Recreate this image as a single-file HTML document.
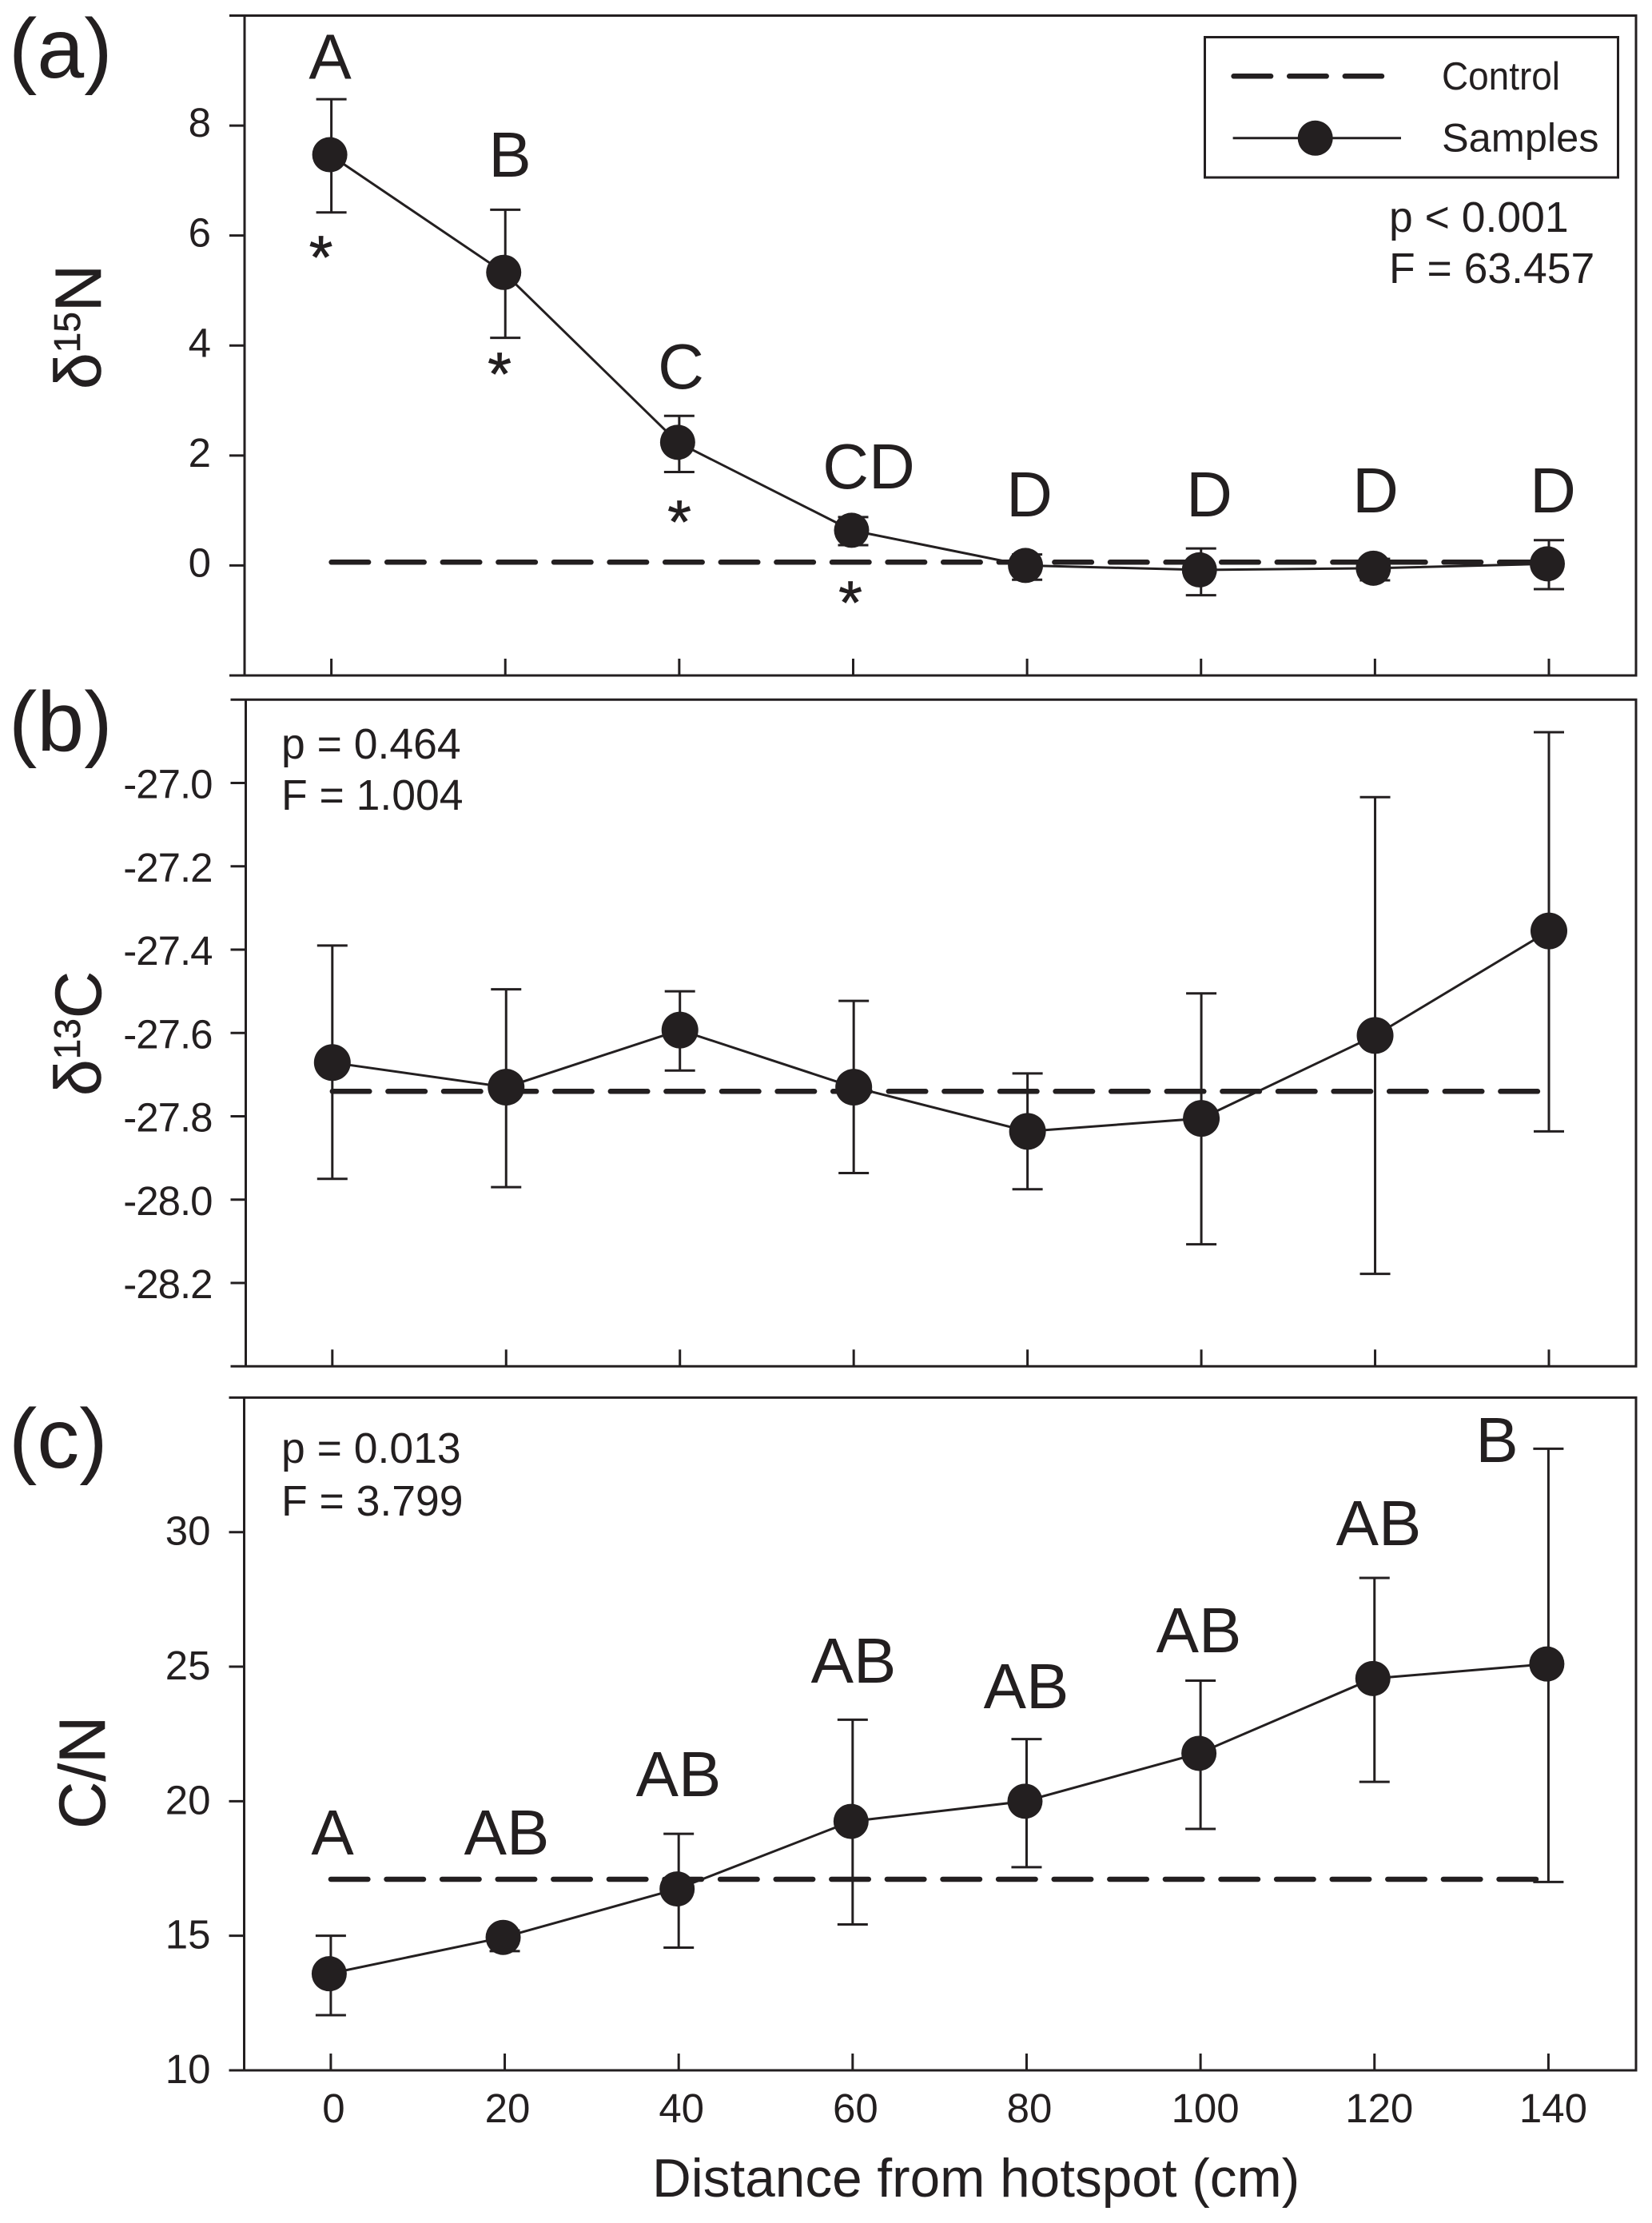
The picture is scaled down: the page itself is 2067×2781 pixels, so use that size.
<!DOCTYPE html>
<html lang="en">
<head>
<meta charset="utf-8">
<title>Isotope values by distance from hotspot</title>
<style>
  html, body { margin: 0; padding: 0; background: #fff; }
  svg { display: block; }
  text { font-family: "Liberation Sans", "DejaVu Sans", sans-serif; fill: #231f20; }
  .sym { font-size: 80px; text-anchor: middle; }
  .star { font-size: 76px; text-anchor: middle; stroke: #231f20; stroke-width: 0.8px; }
  .stat { font-size: 53.5px; }
  .tag { font-size: 106px; }
  .ytitle { font-size: 82px; stroke: #231f20; stroke-width: 0.6px; }
</style>
</head>
<body>
<svg id="chart" xmlns="http://www.w3.org/2000/svg" width="2067" height="2781" viewBox="0 0 2067 2781">
  <rect x="0" y="0" width="2067" height="2781" fill="#ffffff"/>
  <g id="panel-a"></g>
  <g id="panel-b"></g>
  <g id="panel-c"></g>

  <text class="tag" x="11" y="97">(a)</text>
  <text class="tag" x="11" y="939">(b)</text>
  <text class="tag" x="11" y="1836">(c)</text>

  <text class="ytitle" transform="translate(126 487) rotate(-90)">δ<tspan dy="-26" font-size="46">15</tspan><tspan dy="26">N</tspan></text>
  <text class="ytitle" transform="translate(126 1371) rotate(-90)">δ<tspan dy="-26" font-size="46">13</tspan><tspan dy="26">C</tspan></text>
  <text class="ytitle" transform="translate(131 2288) rotate(-90)">C/N</text>
  <text x="816" y="2748" font-size="67.5">Distance from hotspot (cm)</text>

  <g>
    <text class="sym" x="413" y="98.5">A</text>
    <text class="sym" x="638" y="221">B</text>
    <text class="sym" x="852" y="486">C</text>
    <text class="sym" x="1087" y="611">CD</text>
    <text class="sym" x="1288" y="646">D</text>
    <text class="sym" x="1513" y="646">D</text>
    <text class="sym" x="1721" y="641">D</text>
    <text class="sym" x="1943" y="641">D</text>
  </g>
  <g>
    <text class="star" x="401.5" y="348">*</text>
    <text class="star" x="625" y="494">*</text>
    <text class="star" x="850" y="679">*</text>
    <text class="star" x="1064" y="780">*</text>
  </g>
  <g>
    <text class="sym" x="416" y="2320">A</text>
    <text class="sym" x="634" y="2320">AB</text>
    <text class="sym" x="849" y="2247">AB</text>
    <text class="sym" x="1068" y="2105">AB</text>
    <text class="sym" x="1284" y="2137">AB</text>
    <text class="sym" x="1500" y="2067">AB</text>
    <text class="sym" x="1725" y="1933">AB</text>
    <text class="sym" x="1873" y="1829">B</text>
  </g>

  <g>
    <text class="stat" x="1738" y="290">p &lt; 0.001</text>
    <text class="stat" x="1738" y="354">F = 63.457</text>
  </g>
  <g>
    <text class="stat" x="352" y="949">p = 0.464</text>
    <text class="stat" x="352" y="1013">F = 1.004</text>
  </g>
  <g>
    <text class="stat" x="352" y="1830">p = 0.013</text>
    <text class="stat" x="352" y="1896">F = 3.799</text>
  </g>

  <g>
    <rect x="1507.5" y="46.5" width="517" height="175.5" fill="#fff" stroke="#231f20" stroke-width="3"/>
    <line x1="1543.6" y1="95.3" x2="1729" y2="95.3" stroke="#231f20" stroke-width="6.5" stroke-linecap="round" stroke-dasharray="46.5 23.1"/>
    <text x="1804" y="112" font-size="49" textLength="148" lengthAdjust="spacingAndGlyphs">Control</text>
    <line x1="1542.6" y1="172.8" x2="1753" y2="172.8" stroke="#231f20" stroke-width="3"/>
    <circle cx="1645.7" cy="172.8" r="22" fill="#231f20"/>
    <text x="1804" y="189.4" font-size="50.5">Samples</text>
  </g>
</svg>

<script>
const distances = [0, 20, 40, 60, 80, 100, 120, 140];

const aTickValues = [0, 2, 4, 6, 8];
const aTickLabels = ["0", "2", "4", "6", "8"];
const aMeans = [7.47, 5.33, 2.24, 0.64, 0.0, -0.08, -0.05, 0.03];
const aUpper = [8.48, 6.47, 2.72, 0.88, 0.2, 0.31, 0.12, 0.46];
const aLower = [6.42, 4.14, 1.70, 0.37, -0.26, -0.54, -0.27, -0.43];
const aControl = 0.06;

const bTickValues = [-28.2, -28.0, -27.8, -27.6, -27.4, -27.2, -27.0];
const bTickLabels = ["-28.2", "-28.0", "-27.8", "-27.6", "-27.4", "-27.2", "-27.0"];
const bMeans = [-27.671, -27.73, -27.593, -27.73, -27.836, -27.805, -27.606, -27.355];
const bUpper = [-27.39, -27.495, -27.50, -27.523, -27.697, -27.505, -27.034, -26.878];
const bLower = [-27.95, -27.97, -27.69, -27.936, -27.975, -28.107, -28.178, -27.836];
const bControl = -27.74;

const cTickValues = [10, 15, 20, 25, 30];
const cTickLabels = ["10", "15", "20", "25", "30"];
const cMeans = [13.59, 14.94, 16.74, 19.25, 20.0, 21.78, 24.56, 25.1];
const cUpper = [15.0, 15.2, 18.79, 23.03, 22.31, 24.48, 28.3, 33.1];
const cLower = [12.05, 14.43, 14.56, 15.42, 17.55, 18.97, 20.72, 17.0];
const cControl = 17.1;

const INK = "#231f20";
const NS = "http://www.w3.org/2000/svg";

function make(parent, tag, attrs) {
  const el = document.createElementNS(NS, tag);
  for (const key in attrs) el.setAttribute(key, attrs[key]);
  parent.appendChild(el);
  return el;
}

function drawLine(parent, x1, y1, x2, y2, name) {
  const el = make(parent, "line", { x1, y1, x2, y2, stroke: INK, "stroke-width": 3 });
  
  
  return el;
}

function drawPanel(id, frame, series) {
  const g = document.getElementById(id);
  const xAxis = v => frame.x0 + (v - distances[0]) / (distances[distances.length - 1] - distances[0]) * (frame.xEnd - frame.x0);
  const yAxis = v => frame.bottom - (v - frame.yMin) / (frame.yMax - frame.yMin) * (frame.bottom - frame.top);

  // frame
  drawLine(g, frame.left - 19, frame.top, frame.right + 1.5, frame.top, 'top-border');
  drawLine(g, frame.left - 19, frame.bottom, frame.right + 1.5, frame.bottom, 'x-axis-line');
  drawLine(g, frame.left, frame.top, frame.left, frame.bottom, 'y-axis-line');
  drawLine(g, frame.right, frame.top, frame.right, frame.bottom, 'right-border');

  // y ticks
  series.tickValues.forEach((v, i) => {
    drawLine(g, frame.left - 19, yAxis(v), frame.left, yAxis(v), 'y-tick');
    const label = make(g, "text", { x: frame.left - 42, y: yAxis(v) + frame.labelDy, "text-anchor": "end", "font-size": 51, "letter-spacing": frame.labelSpacing });
    
    
    label.textContent = series.tickLabels[i];
  });

  // x ticks
  distances.forEach(d => {
    drawLine(g, xAxis(d), frame.bottom - 21, xAxis(d), frame.bottom, 'x-tick');
    if (frame.showXLabels) {
      const label = make(g, "text", { x: xAxis(d) + (d >= 100 ? 6 : 3.5), y: 2655, "text-anchor": "middle", "font-size": 51 });
      
      
      label.textContent = String(d);
    }
  });

  // error bars
  distances.forEach((d, i) => {
    const px = xAxis(d);
    const group = make(g, "g", {});
    
    
    drawLine(group, px, yAxis(series.upper[i]), px, yAxis(series.lower[i]), 'error-bar-stem');
    drawLine(group, px - 19, yAxis(series.upper[i]), px + 19, yAxis(series.upper[i]), 'error-bar-cap-upper');
    drawLine(group, px - 19, yAxis(series.lower[i]), px + 19, yAxis(series.lower[i]), 'error-bar-cap-lower');
  });

  // control line
  const control = make(g, "line", {
    x1: xAxis(distances[0]) - 0,
    y1: yAxis(series.control),
    x2: xAxis(distances[distances.length - 1]) - 13.5,
    y2: yAxis(series.control),
    stroke: INK,
    "stroke-width": 6.5,
    "stroke-linecap": "round",
    "stroke-dasharray": "46.5 23.1"
  });
  
  

  // samples line
  const points = distances.map((d, i) => (xAxis(d) + frame.markerDx) + "," + yAxis(series.means[i])).join(" ");
  const samples = make(g, "polyline", { points, fill: "none", stroke: INK, "stroke-width": 3 });
  
  

  // markers
  distances.forEach((d, i) => {
    const dot = make(g, "circle", { cx: xAxis(d) + frame.markerDx, cy: yAxis(series.means[i]), r: frame.radius, fill: INK });
    
    
  });
}

drawPanel("panel-a",
  { left: 306, right: 2047, top: 19.5, bottom: 845, yMin: -2, yMax: 10, x0: 414.6, xEnd: 1938, markerDx: -2, radius: 22, labelDy: 14, labelSpacing: 0, showXLabels: false },
  { tickValues: aTickValues, tickLabels: aTickLabels, means: aMeans, upper: aUpper, lower: aLower, control: aControl });

drawPanel("panel-b",
  { left: 307.5, right: 2047, top: 875.3, bottom: 1709.3, yMin: -28.4, yMax: -26.8, x0: 415.8, xEnd: 1938, markerDx: 0, radius: 23, labelDy: 19, labelSpacing: -1, showXLabels: false },
  { tickValues: bTickValues, tickLabels: bTickLabels, means: bMeans, upper: bUpper, lower: bLower, control: bControl });

drawPanel("panel-c",
  { left: 305.5, right: 2047, top: 1748.4, bottom: 2590, yMin: 10, yMax: 35, x0: 413.9, xEnd: 1937.4, markerDx: -2, radius: 22, labelDy: 16, labelSpacing: 0, showXLabels: true },
  { tickValues: cTickValues, tickLabels: cTickLabels, means: cMeans, upper: cUpper, lower: cLower, control: cControl });
</script>
</body>
</html>
